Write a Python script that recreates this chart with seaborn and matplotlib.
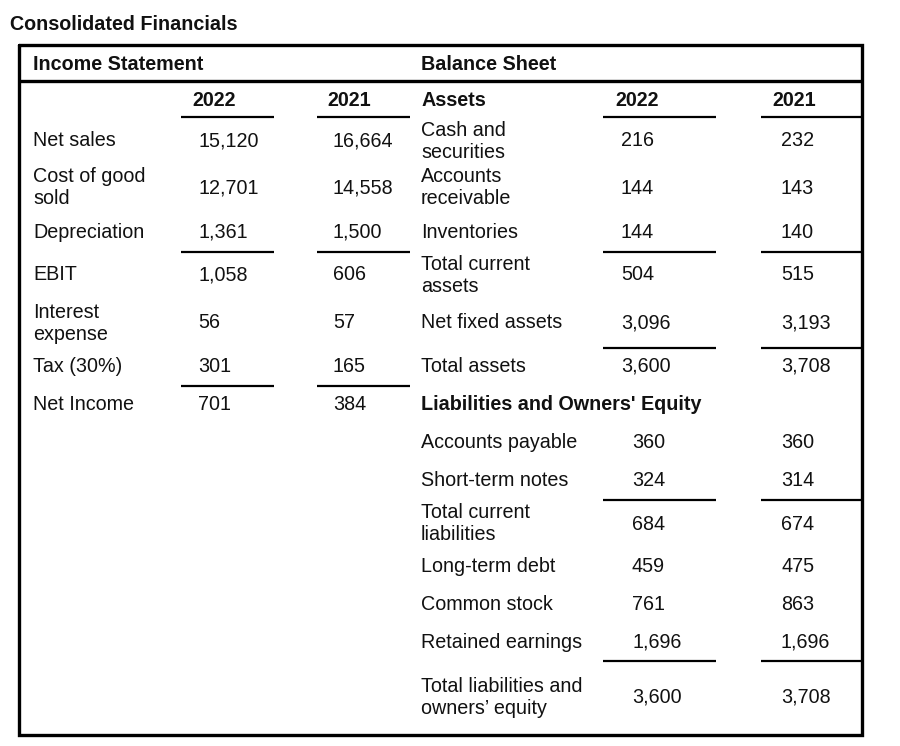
import matplotlib
matplotlib.use("Agg")
import seaborn as sns
import matplotlib.pyplot as plt

# table data
title = "Consolidated Financials"
years = ["2022", "2021"]

income_labels = ["Net sales", "Cost of good\nsold", "Depreciation", "EBIT",
                 "Interest\nexpense", "Tax (30%)", "Net Income"]
income_2022 = ["15,120", "12,701", "1,361", "1,058", "56", "301", "701"]
income_2021 = ["16,664", "14,558", "1,500", "606", "57", "165", "384"]

asset_labels = ["Cash and\nsecurities", "Accounts\nreceivable", "Inventories",
                "Total current\nassets", "Net fixed assets", "Total assets"]
asset_2022 = ["216", "144", "144", "504", "3,096", "3,600"]
asset_2021 = ["232", "143", "140", "515", "3,193", "3,708"]

liab_labels = ["Accounts payable", "Short-term notes", "Total current\nliabilities",
               "Long-term debt", "Common stock", "Retained earnings",
               "Total liabilities and\nowners\u2019 equity"]
liab_2022 = ["360", "324", "684", "459", "761", "1,696", "3,600"]
liab_2021 = ["360", "314", "674", "475", "863", "1,696", "3,708"]

# layout (pixel rows)
income_y = [141, 188, 232, 275, 323, 366, 405]
asset_y = [141, 188, 232, 275, 323, 366]
liab_y = [443, 481, 524, 567, 605, 642, 697]

sns.set_theme(style="white")
plt.rcParams["font.family"] = ["Liberation Sans", "DejaVu Sans"]

fig = plt.figure(figsize=(9, 7.46), dpi=100)
ax = fig.add_axes([0, 0, 1, 1])
ax.set_xlim(0, 900)
ax.set_ylim(746, 0)
ax.axis("off")

fs = 14.2
ink = "#111111"

ax.text(10, 25, title, fontsize=fs, fontweight="bold", va="center", color=ink)

# outer frame and header rule
ax.plot([19, 862, 862, 19, 19], [45, 45, 735, 735, 45], color="black", lw=2.4,
        solid_joinstyle="miter")
ax.hlines(81, 19, 862, color="black", lw=2.4)

ax.text(33, 64, "Income Statement", fontsize=fs, fontweight="bold", va="center", color=ink)
ax.text(421, 64, "Balance Sheet", fontsize=fs, fontweight="bold", va="center", color=ink)

# column headers
ax.text(214, 100, years[0], fontsize=fs, fontweight="bold", va="center", ha="center", color=ink)
ax.text(349, 100, years[1], fontsize=fs, fontweight="bold", va="center", ha="center", color=ink)
ax.text(421, 100, "Assets", fontsize=fs, fontweight="bold", va="center", color=ink)
ax.text(637, 100, years[0], fontsize=fs, fontweight="bold", va="center", ha="center", color=ink)
ax.text(794, 100, years[1], fontsize=fs, fontweight="bold", va="center", ha="center", color=ink)
ax.text(421, 405, "Liabilities and Owners' Equity", fontsize=fs, fontweight="bold",
        va="center", color=ink)

# rules under columns
left_cols = [(181, 274), (317, 410)]
right_cols = [(603, 716), (761, 862)]
for y in [117, 252, 386]:
    for x0, x1 in left_cols:
        ax.hlines(y, x0, x1, color="black", lw=1.6)
for y in [117, 252, 348, 500, 661]:
    for x0, x1 in right_cols:
        ax.hlines(y, x0, x1, color="black", lw=1.6)

# income statement rows
for lab, a, b, y in zip(income_labels, income_2022, income_2021, income_y):
    ax.text(33, y, lab, fontsize=fs, va="center", linespacing=1.2, color=ink)
    ax.text(198, y, a, fontsize=fs, va="center", color=ink)
    ax.text(333, y, b, fontsize=fs, va="center", color=ink)

# balance sheet rows
for labs, c22, c21, ys in [(asset_labels, asset_2022, asset_2021, asset_y),
                           (liab_labels, liab_2022, liab_2021, liab_y)]:
    for lab, a, b, y in zip(labs, c22, c21, ys):
        ax.text(421, y, lab, fontsize=fs, va="center", linespacing=1.2, color=ink)
        ax.text(621 if ys is asset_y else 632, y, a, fontsize=fs, va="center", color=ink)
        ax.text(781, y, b, fontsize=fs, va="center", color=ink)

fig.savefig("out.png", dpi=100, facecolor="white")
